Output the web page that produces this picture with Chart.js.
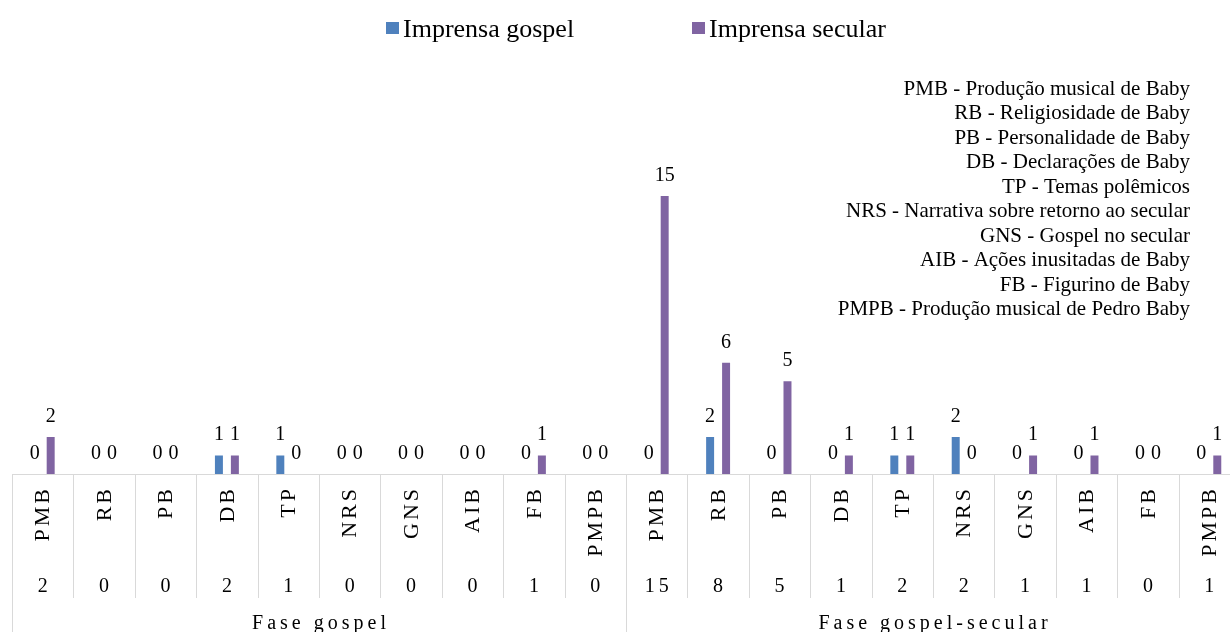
<!DOCTYPE html>
<html>
<head>
<meta charset="utf-8">
<script src="https://cdn.jsdelivr.net/npm/chart.js@4.4.1/dist/chart.umd.min.js"></script>
<style>
html,body{margin:0;padding:0;overflow:hidden;background:#fff;width:1230px;height:632px}
#wrap{position:absolute;left:0;top:0;width:1242px;height:632px}
</style>
</head>
<body>
<div id="wrap"><canvas id="c" width="1242" height="632"></canvas></div>
<script>
// ---- data ----
const categories = ['PMB','RB','PB','DB','TP','NRS','GNS','AIB','FB','PMPB',
                    'PMB','RB','PB','DB','TP','NRS','GNS','AIB','FB','PMPB'];
const gospelValues  = [0,0,0,1,1,0,0,0,0,0, 0,2,0,0,1,2,0,0,0,0];
const secularValues = [2,0,0,1,0,0,0,0,1,0, 15,6,5,1,1,0,1,1,0,1];
const totals        = [2,0,0,2,1,0,0,0,1,0, 15,8,5,1,2,2,1,1,0,1];
const groupLabels   = ['Fase gospel','Fase gospel-secular'];
const groupSizes    = [10,10];
const seriesNames   = ['Imprensa gospel','Imprensa secular'];
const abbreviations = [
  'PMB - Produção musical de Baby',
  'RB - Religiosidade de Baby',
  'PB - Personalidade de Baby',
  'DB - Declarações de Baby',
  'TP - Temas polêmicos',
  'NRS - Narrativa sobre retorno ao secular',
  'GNS - Gospel no secular',
  'AIB - Ações inusitadas de Baby',
  'FB - Figurino de Baby',
  'PMPB - Produção musical de Pedro Baby'
];

const BLUE = '#4F81BD', PURPLE = '#8064A2', GRID = '#D9D9D9';
const SERIF = '"Liberation Serif", "Times New Roman", serif';

const decorPlugin = {
  id: 'decor',
  afterDatasetsDraw(chart) {
    const ctx = chart.ctx;
    const xs = chart.scales.x;
    const area = chart.chartArea;
    const n = categories.length;
    const w = (area.right - area.left) / n;
    const base = area.bottom;

    ctx.save();
    // ---- data labels ----
    ctx.fillStyle = '#000';
    ctx.font = '20px ' + SERIF;
    ctx.textAlign = 'center';
    ctx.textBaseline = 'alphabetic';
    chart.data.datasets.forEach((ds, di) => {
      const meta = chart.getDatasetMeta(di);
      meta.data.forEach((el, i) => {
        ctx.fillText(String(ds.data[i]), el.x, el.y - 15);
      });
    });

    // ---- table lines ----
    ctx.strokeStyle = GRID;
    ctx.lineWidth = 1;
    ctx.beginPath();
    ctx.moveTo(area.left, base + 0.5);
    ctx.lineTo(chart.width, base + 0.5);
    let groupStarts = [0];
    let acc = 0;
    groupSizes.forEach(s => { acc += s; groupStarts.push(acc); });
    for (let i = 0; i <= n; i++) {
      const x = Math.round(xs.getPixelForValue(Math.min(i, n - 1)) + (i === n ? w / 2 : -w / 2)) + 0.5;
      const isGroup = groupStarts.includes(i);
      ctx.moveTo(x, base);
      ctx.lineTo(x, isGroup ? chart.height : base + 124);
    }
    ctx.stroke();

    // ---- rotated category labels ----
    ctx.font = '22px ' + SERIF;
    ctx.letterSpacing = '3px';
    for (let i = 0; i < n; i++) {
      const cx = xs.getPixelForValue(i);
      ctx.save();
      ctx.translate(cx + 1, base + 15 - 3);
      ctx.rotate(-Math.PI / 2);
      ctx.textAlign = 'right';
      ctx.textBaseline = 'middle';
      ctx.fillText(categories[i], 0, 0);
      ctx.restore();
    }
    // ---- totals row ----
    ctx.font = '20px ' + SERIF;
    ctx.letterSpacing = '4px';
    ctx.textAlign = 'center';
    ctx.textBaseline = 'alphabetic';
    for (let i = 0; i < n; i++) {
      const cx = xs.getPixelForValue(i);
      ctx.fillText(String(totals[i]), cx + 2, base + 118);
    }
    // ---- group labels ----
    for (let g = 0; g < groupSizes.length; g++) {
      const a = xs.getPixelForValue(groupStarts[g]) - w / 2;
      const b = xs.getPixelForValue(groupStarts[g + 1] - 1) + w / 2;
      ctx.fillText(groupLabels[g], (a + b) / 2 + 2, base + 155);
    }
    ctx.letterSpacing = '0px';

    // ---- legend ----
    ctx.font = '26px ' + SERIF;
    ctx.textAlign = 'left';
    ctx.textBaseline = 'alphabetic';
    const legendX = [386, 692];
    chart.data.datasets.forEach((ds, di) => {
      ctx.fillStyle = ds.backgroundColor;
      ctx.fillRect(legendX[di], 22, 13, 12);
      ctx.fillStyle = '#000';
      ctx.fillText(ds.label, legendX[di] + 17, 37);
    });

    // ---- abbreviation list ----
    ctx.font = '21px ' + SERIF;
    ctx.textAlign = 'right';
    abbreviations.forEach((t, k) => {
      ctx.fillText(t, 1190, 95 + k * 24.45);
    });
    ctx.restore();
  }
};

new Chart(document.getElementById('c'), {
  type: 'bar',
  data: {
    labels: categories,
    datasets: [
      { label: seriesNames[0], data: gospelValues, backgroundColor: BLUE, borderWidth: 0,
        categoryPercentage: 0.52, barPercentage: 0.5 },
      { label: seriesNames[1], data: secularValues, backgroundColor: PURPLE, borderWidth: 0,
        categoryPercentage: 0.52, barPercentage: 0.5 }
    ]
  },
  options: {
    responsive: false,
    animation: false,
    devicePixelRatio: 1,
    layout: { padding: { left: 12, right: 2, top: 103.4, bottom: 158 } },
    plugins: { legend: { display: false }, tooltip: { enabled: false } },
    scales: {
      x: { display: false },
      y: { display: false, min: 0, max: 20 }
    }
  },
  plugins: [decorPlugin]
});
</script>
</body>
</html>
